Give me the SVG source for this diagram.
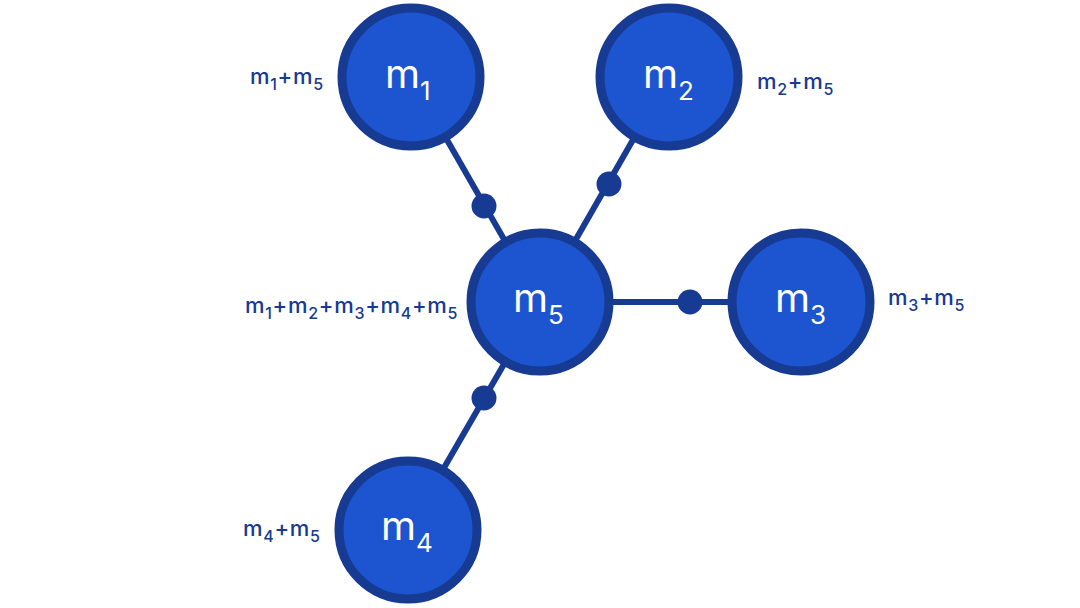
<svg xmlns="http://www.w3.org/2000/svg" width="1080" height="608" viewBox="0 0 1080 608">
<style>
.node{fill:#1c55cf;stroke:#173a92;stroke-width:9}
.nt{font-family:Inter,"Noto Sans",sans-serif;fill:#ffffff;font-size:40px}
.ns{font-size:26px}
.lbl{font-family:Inter,"Noto Sans",sans-serif;fill:#173a92;font-size:22px;font-weight:500;letter-spacing:0.7px}
.ls{font-size:16px}
.edge{stroke:#173a92;stroke-width:6;fill:none}
.dot{fill:#173a92}
</style>
<rect width="1080" height="608" fill="#ffffff"/>
<g id="connectors">
<line class="edge" x1="411" y1="77" x2="540" y2="302"/>
<line class="edge" x1="669" y1="77" x2="540" y2="302"/>
<line class="edge" x1="540" y1="302" x2="801" y2="302"/>
<line class="edge" x1="408" y1="530" x2="540" y2="302"/>
<circle class="dot" cx="484" cy="206" r="12.5"/>
<circle class="dot" cx="609" cy="184" r="12.5"/>
<circle class="dot" cx="690" cy="302" r="12.5"/>
<circle class="dot" cx="484" cy="398" r="12.5"/>
</g>
<g id="m1">
<circle class="node" cx="411" cy="77" r="69"/>
<text class="nt" x="385" y="88">m<tspan class="ns" dy="12">1</tspan></text>
<text class="lbl" x="250" y="84">m<tspan class="ls" dy="6">1</tspan><tspan dy="-6">+m</tspan><tspan class="ls" dy="6">5</tspan></text>
</g>
<g id="m2">
<circle class="node" cx="669" cy="77" r="69"/>
<text class="nt" x="643" y="88">m<tspan class="ns" dy="12">2</tspan></text>
<text class="lbl" x="757" y="89">m<tspan class="ls" dy="6">2</tspan><tspan dy="-6">+m</tspan><tspan class="ls" dy="6">5</tspan></text>
</g>
<g id="m5">
<circle class="node" cx="540" cy="302" r="69"/>
<text class="nt" x="513" y="312">m<tspan class="ns" dy="12">5</tspan></text>
<text class="lbl" x="245" y="313">m<tspan class="ls" dy="6">1</tspan><tspan dy="-6">+m</tspan><tspan class="ls" dy="6">2</tspan><tspan dy="-6">+m</tspan><tspan class="ls" dy="6">3</tspan><tspan dy="-6">+m</tspan><tspan class="ls" dy="6">4</tspan><tspan dy="-6">+m</tspan><tspan class="ls" dy="6">5</tspan></text>
</g>
<g id="m3">
<circle class="node" cx="801" cy="302" r="69"/>
<text class="nt" x="775" y="312">m<tspan class="ns" dy="12">3</tspan></text>
<text class="lbl" x="888" y="305">m<tspan class="ls" dy="6">3</tspan><tspan dy="-6">+m</tspan><tspan class="ls" dy="6">5</tspan></text>
</g>
<g id="m4">
<circle class="node" cx="408" cy="530" r="69"/>
<text class="nt" x="381" y="540">m<tspan class="ns" dy="12">4</tspan></text>
<text class="lbl" x="243" y="536">m<tspan class="ls" dy="6">4</tspan><tspan dy="-6">+m</tspan><tspan class="ls" dy="6">5</tspan></text>
</g>
</svg>
